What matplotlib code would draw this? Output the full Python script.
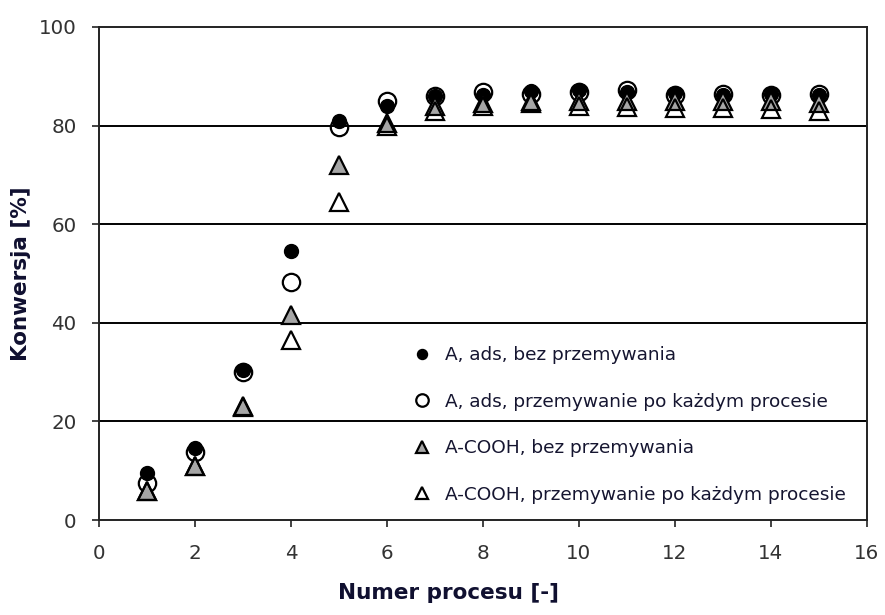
import matplotlib
matplotlib.use("Agg")
import matplotlib.pyplot as plt

plt.rcParams['font.family'] = ['DejaVu Sans']

process = [1, 2, 3, 4, 5, 6, 7, 8, 9, 10, 11, 12, 13, 14, 15]

a_ads_no_wash = [9.5, 14.6, 30.5, 54.6, 80.9, 84.0, 86.0, 86.3, 87.0, 87.3, 86.8, 86.6, 86.3, 86.5, 86.3]
a_ads_wash = [7.5, 13.8, 30.0, 48.3, 79.8, 85.0, 86.0, 86.8, 86.5, 86.8, 87.3, 86.3, 86.5, 86.3, 86.5]
a_cooh_no_wash = [5.8, 11.0, 23.2, 41.5, 72.0, 80.5, 84.0, 84.5, 85.0, 85.0, 85.0, 85.0, 85.0, 85.0, 84.5]
a_cooh_wash = [5.8, 11.0, 23.0, 36.5, 64.5, 80.0, 83.0, 84.0, 84.5, 84.0, 83.8, 83.5, 83.5, 83.3, 83.0]

labels = [
    "A, ads, bez przemywania",
    "A, ads, przemywanie po każdym procesie",
    "A-COOH, bez przemywania",
    "A-COOH, przemywanie po każdym procesie",
]

x_ticks = [0, 2, 4, 6, 8, 10, 12, 14, 16]
y_ticks = [0, 20, 40, 60, 80, 100]

fig = plt.figure(figsize=(8.85, 6.15), dpi=100)
ax = fig.add_axes([99 / 885, 95 / 615, 768 / 885, 493 / 615])

# horizontal grid lines
for yv in y_ticks[1:-1]:
    ax.axhline(yv, color='black', lw=1.4, zorder=1)

h_open_c, = ax.plot(process, a_ads_wash, linestyle='none', marker='o', ms=12.5,
                    mfc='none', mec='black', mew=1.6, zorder=3)
h_fill_c, = ax.plot(process, a_ads_no_wash, linestyle='none', marker='o', ms=10,
                    mfc='black', mec='black', mew=1.0, zorder=4)
h_gray_t, = ax.plot(process, a_cooh_no_wash, linestyle='none', marker='^', ms=12.5,
                    mfc='#a6a6a6', mec='black', mew=1.6, zorder=5)
h_open_t, = ax.plot(process, a_cooh_wash, linestyle='none', marker='^', ms=12.5,
                    mfc='none', mec='black', mew=1.6, zorder=6)

ax.set_xlim(0, 16)
ax.set_ylim(0, 100)
ax.set_xticks(x_ticks)
ax.set_yticks(y_ticks)

for s in ax.spines.values():
    s.set_linewidth(1.4)
    s.set_color('#222222')

ax.tick_params(axis='both', direction='out', length=5, width=1.2, color='#222222',
               labelsize=14.3, labelcolor='#333333')
ax.tick_params(axis='y', pad=11)
ax.tick_params(axis='x', pad=12)

ax.set_xlabel("Numer procesu [-]", fontsize=15.5, fontweight='bold', color='#101030')
ax.set_ylabel("Konwersja [%]", fontsize=15.5, fontweight='bold', color='#101030')
ax.xaxis.set_label_coords((448 - 99) / 768, -0.128)
ax.yaxis.set_label_coords((31 - 99) / 768, 0.5)

leg = ax.legend([h_fill_c, h_open_c, h_gray_t, h_open_t], labels,
                loc='upper left', bbox_to_anchor=((413 - 99) / 768, (520 - 346) / 493),
                frameon=False, fontsize=13.3, markerscale=0.72,
                handlelength=1.0, handletextpad=0.75, labelspacing=1.55,
                borderpad=0, borderaxespad=0)
for t in leg.get_texts():
    t.set_color('#151530')

fig.savefig("out.png", dpi=100)
